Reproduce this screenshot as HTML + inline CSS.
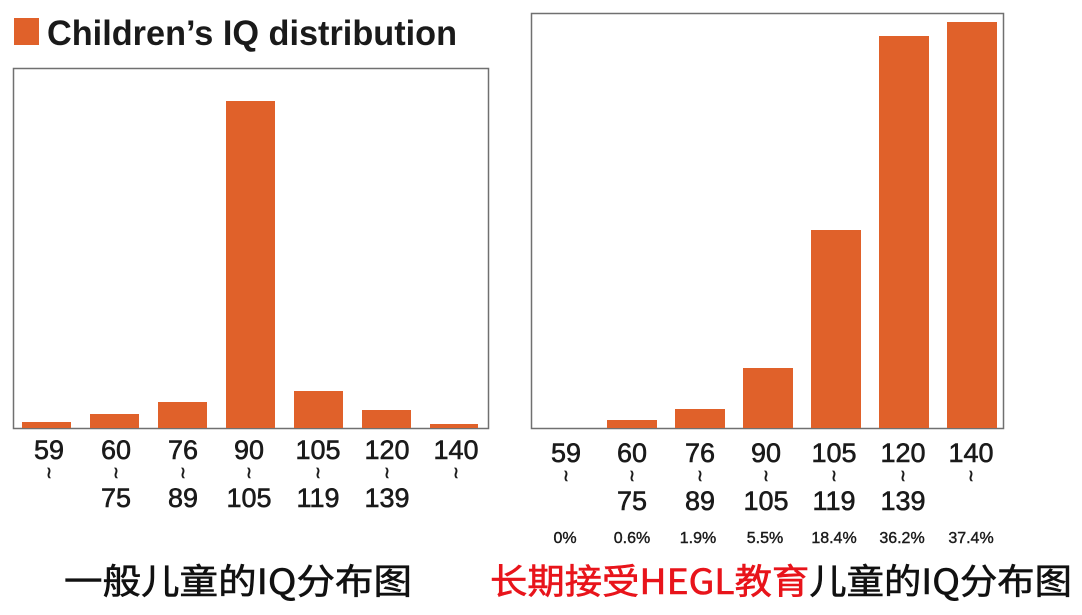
<!DOCTYPE html>
<html><head><meta charset="utf-8"><style>
html,body{margin:0;padding:0;background:#fff;}
svg{display:block;}
.n{font-family:"Liberation Sans",sans-serif;font-size:27px;fill:#1a1a1a;text-anchor:middle;stroke:#1a1a1a;stroke-width:0.6;}
.t{font-family:"Liberation Sans",sans-serif;font-size:16px;fill:#1a1a1a;text-anchor:middle;font-weight:bold;}
.p{font-family:"Liberation Sans",sans-serif;font-size:16px;fill:#1a1a1a;text-anchor:middle;stroke:#1a1a1a;stroke-width:0.4;}
.c{font-family:"WenQuanYi Zen Hei","Noto Sans CJK SC",sans-serif;font-size:35px;stroke-width:0.6;}
</style></head><body>
<svg width="1082" height="615" viewBox="0 0 1082 615">
<rect x="14" y="18" width="25" height="27" fill="#e0612a"/>
<text x="47" y="45" font-family="Liberation Sans,sans-serif" font-weight="bold" font-size="35" fill="#1a1a1a" textLength="410" lengthAdjust="spacingAndGlyphs">Children’s IQ distribution</text>
<rect x="13.5" y="68.5" width="475" height="360" fill="none" stroke="#707070" stroke-width="1.5"/>
<rect x="531.5" y="13.5" width="472" height="415" fill="none" stroke="#707070" stroke-width="1.5"/>
<g fill="#e0612a">
<rect x="22" y="422" width="49" height="6"/>
<rect x="90" y="414" width="49" height="14"/>
<rect x="158" y="402" width="49" height="26"/>
<rect x="226" y="101" width="49" height="327"/>
<rect x="294" y="391" width="49" height="37"/>
<rect x="362" y="410" width="49" height="18"/>
<rect x="430" y="424" width="48" height="4"/>
<rect x="607" y="420" width="50" height="8"/>
<rect x="675" y="409" width="50" height="19"/>
<rect x="743" y="368" width="50" height="60"/>
<rect x="811" y="230" width="50" height="198"/>
<rect x="879" y="36" width="50" height="392"/>
<rect x="947" y="22" width="50" height="406"/>
</g>
<g class="n">
<text x="49" y="459">59</text><text x="116" y="459">60</text><text x="183" y="459">76</text><text x="249" y="459">90</text><text x="318" y="459">105</text><text x="387" y="459">120</text><text x="456" y="459">140</text>
<text x="116" y="507">75</text><text x="183" y="507">89</text><text x="249" y="507">105</text><text x="318" y="507">119</text><text x="387" y="507">139</text>
<text x="566" y="462">59</text><text x="632" y="462">60</text><text x="700" y="462">76</text><text x="766" y="462">90</text><text x="834" y="462">105</text><text x="903" y="462">120</text><text x="971" y="462">140</text>
<text x="632" y="510">75</text><text x="700" y="510">89</text><text x="766" y="510">105</text><text x="834" y="510">119</text><text x="903" y="510">139</text>
</g>
<g class="t">
<text x="49" y="478">≀</text><text x="116" y="478">≀</text><text x="183" y="478">≀</text><text x="249" y="478">≀</text><text x="318" y="478">≀</text><text x="387" y="478">≀</text><text x="456" y="478">≀</text>
<text x="566" y="481">≀</text><text x="632" y="481">≀</text><text x="700" y="481">≀</text><text x="766" y="481">≀</text><text x="834" y="481">≀</text><text x="903" y="481">≀</text><text x="971" y="481">≀</text>
</g>
<g class="p">
<text x="565" y="543">0%</text><text x="632" y="543">0.6%</text><text x="698" y="543">1.9%</text><text x="765" y="543">5.5%</text><text x="834" y="543">18.4%</text><text x="902" y="543">36.2%</text><text x="971" y="543">37.4%</text>
</g>
<text class="c" x="64" y="594" fill="#111" stroke="#111" textLength="348" lengthAdjust="spacingAndGlyphs">一般儿童的IQ分布图</text>
<text class="c" x="490" y="594" textLength="582" lengthAdjust="spacingAndGlyphs"><tspan fill="#e8141b" stroke="#e8141b">长期接受HEGL教育</tspan><tspan fill="#111" stroke="#111">儿童的IQ分布图</tspan></text>
</svg>
</body></html>
